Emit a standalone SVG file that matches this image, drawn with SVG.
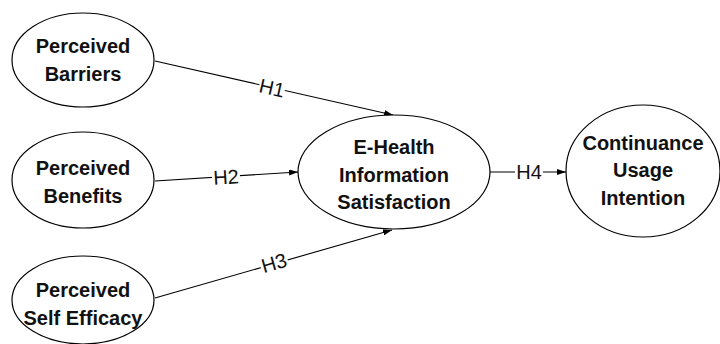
<svg xmlns="http://www.w3.org/2000/svg" width="720" height="344" viewBox="0 0 720 344">
<style>
.node ellipse{fill:#fff;stroke:#000;stroke-width:1.2}
.node text{font-family:"Liberation Sans",Arial,sans-serif;font-weight:bold;font-size:20px;text-anchor:middle;fill:#111}
.edge line{stroke:#000;stroke-width:1.1}
.lbl{font-family:"Liberation Sans",Arial,sans-serif;font-size:20px;text-anchor:middle;dominant-baseline:central;fill:#111}
.bg{fill:#fff}
</style>
<defs>
<marker id="arr" markerWidth="9" markerHeight="6" refX="9" refY="3" orient="auto" markerUnits="userSpaceOnUse">
<path d="M0,0 L9,3 L0,6 Z" fill="#000"/>
</marker>
</defs>
<rect width="720" height="344" fill="#fff"/>
<g id="connectors" class="edge">
<line x1="155" y1="61" x2="393" y2="115" marker-end="url(#arr)"/>
<line x1="155" y1="181" x2="298" y2="172" marker-end="url(#arr)"/>
<line x1="155" y1="298" x2="392" y2="230" marker-end="url(#arr)"/>
<line x1="490" y1="172" x2="566" y2="172" marker-end="url(#arr)"/>
<g transform="translate(272,88) rotate(12.8)"><rect class="bg" x="-13" y="-9" width="26" height="18"/><text class="lbl" x="0" y="0">H1</text></g>
<g transform="translate(226,177) rotate(-3.6)"><rect class="bg" x="-14" y="-9" width="28" height="18"/><text class="lbl" x="0" y="0">H2</text></g>
<g transform="translate(274,263) rotate(-16)"><rect class="bg" x="-14" y="-9" width="28" height="18"/><text class="lbl" x="0" y="0">H3</text></g>
<g transform="translate(529,172)"><rect class="bg" x="-14" y="-9" width="28" height="18"/><text class="lbl" x="0" y="0">H4</text></g>
</g>
<g id="n-barriers" class="node">
<ellipse cx="83" cy="60" rx="71" ry="47"/>
<text x="83" y="53">Perceived</text>
<text x="83" y="81">Barriers</text>
</g>
<g id="n-benefits" class="node">
<ellipse cx="83" cy="180" rx="71" ry="48"/>
<text x="83" y="175">Perceived</text>
<text x="83" y="203">Benefits</text>
</g>
<g id="n-selfefficacy" class="node">
<ellipse cx="83" cy="300" rx="71" ry="44"/>
<text x="83" y="297">Perceived</text>
<text x="83" y="325">Self Efficacy</text>
</g>
<g id="n-satisfaction" class="node">
<ellipse cx="394" cy="172" rx="96" ry="57"/>
<text x="394" y="154">E-Health</text>
<text x="394" y="182">Information</text>
<text x="394" y="209">Satisfaction</text>
</g>
<g id="n-intention" class="node">
<ellipse cx="643" cy="171" rx="77" ry="66"/>
<text x="643" y="150">Continuance</text>
<text x="643" y="177">Usage</text>
<text x="643" y="205">Intention</text>
</g>
</svg>
